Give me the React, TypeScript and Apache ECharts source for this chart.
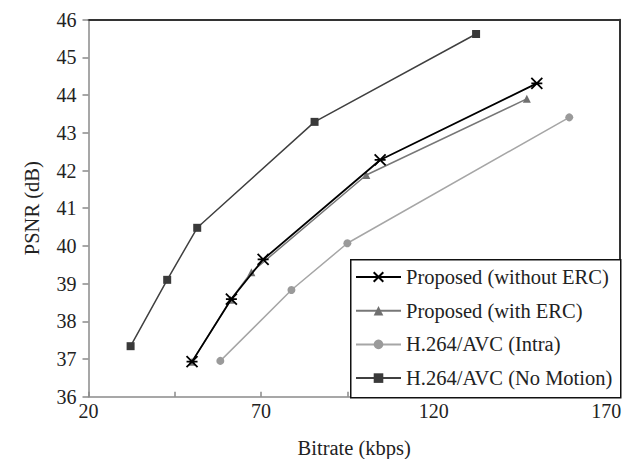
import React, { useEffect, useRef } from "react";
import * as echarts from "echarts";

const seriesNames = [
  "Proposed (without ERC)",
  "Proposed (with ERC)",
  "H.264/AVC (Intra)",
  "H.264/AVC (No Motion)",
];

const withoutErcX = [50.0, 61.4, 70.6, 104.5, 149.9];
const withoutErcY = [36.93, 38.59, 39.64, 42.28, 44.31];

const withErcX = [50.0, 61.2, 67.2, 100.5, 147.0];
const withErcY = [36.93, 38.57, 39.3, 41.88, 43.9];

const intraX = [58.2, 78.8, 95.0, 159.3];
const intraY = [36.95, 38.83, 40.07, 43.41];

const noMotionX = [32.2, 42.8, 51.5, 85.5, 132.3];
const noMotionY = [37.34, 39.1, 40.48, 43.29, 45.62];

const xLabelValues = [20, 70, 120, 170];

const pairs = (xs: number[], ys: number[]) => xs.map((x, i) => [x, ys[i]]);

const FONT = "'Liberation Serif', 'Times New Roman', serif";
const STAR = "path://M0,0L10,10M0,10L10,0M0,5L10,5";

export default function App() {
  const ref = useRef<HTMLDivElement>(null);
  useEffect(() => {
    document.body.style.margin = "0";
    const chart = echarts.init(ref.current!, null, { renderer: "svg" });
    const axisGray = "#8a8a8a";
    chart.setOption({
      animation: false,
      backgroundColor: "#ffffff",
      grid: {
        left: 88.5,
        right: 9,
        top: 19.7,
        bottom: 62.3,
        containLabel: false,
        outerBoundsMode: "none",
      },
      xAxis: [
        {
          type: "value",
          min: 20,
          max: 174,
          interval: 25,
          name: "Bitrate (kbps)",
          nameLocation: "middle",
          nameGap: 41,
          nameTextStyle: { fontFamily: FONT, fontSize: 20.5, color: "#222" },
          axisLine: { show: true, lineStyle: { color: axisGray, width: 1.5 } },
          axisTick: { show: true, inside: true, length: 5, lineStyle: { color: axisGray, width: 1.5 } },
          axisLabel: {
            fontFamily: FONT,
            fontSize: 20,
            color: "#222",
            margin: 4,
            formatter: (v: number) => (xLabelValues.includes(v) ? String(v) : ""),
          },
          splitLine: { show: false },
        },
        {
          type: "value",
          position: "top",
          min: 20,
          max: 174,
          axisLine: { show: true, lineStyle: { color: "#333", width: 2 } },
          axisTick: { show: false },
          axisLabel: { show: false },
          splitLine: { show: false },
        },
      ],
      yAxis: [
        {
          type: "value",
          min: 36,
          max: 46,
          interval: 1,
          name: "PSNR (dB)",
          nameLocation: "middle",
          nameGap: 46,
          nameTextStyle: { fontFamily: FONT, fontSize: 20.5, color: "#222" },
          axisLine: { show: true, lineStyle: { color: axisGray, width: 1.5 } },
          axisTick: { show: true, inside: false, length: 6, lineStyle: { color: axisGray, width: 1.5 } },
          axisLabel: { fontFamily: FONT, fontSize: 20, color: "#222", margin: 12 },
          splitLine: { show: false },
        },
        {
          type: "value",
          position: "right",
          min: 36,
          max: 46,
          axisLine: { show: true, lineStyle: { color: "#333", width: 2 } },
          axisTick: { show: false },
          axisLabel: { show: false },
          splitLine: { show: false },
        },
      ],
      graphic: [
        {
          type: "rect",
          left: 350,
          top: 259,
          shape: { width: 270, height: 138 },
          style: { fill: "#fff", stroke: "#111", lineWidth: 1.5 },
          z: 5,
        },
      ],
      legend: {
        orient: "vertical",
        left: 355,
        top: 266,
        padding: 0,
        itemWidth: 45,
        itemHeight: 12,
        itemGap: 11.7,
        data: seriesNames,
        textStyle: { fontFamily: FONT, fontSize: 20.5, color: "#222", lineHeight: 22 },
        z: 10,
      },
      series: [
        {
          name: seriesNames[3],
          type: "line",
          data: pairs(noMotionX, noMotionY),
          symbol: "rect",
          symbolSize: 8,
          lineStyle: { color: "#404040", width: 1.5 },
          itemStyle: { color: "#3a3a3a" },
          z: 2,
        },
        {
          name: seriesNames[2],
          type: "line",
          data: pairs(intraX, intraY),
          symbol: "circle",
          symbolSize: 8,
          lineStyle: { color: "#a6a6a6", width: 1.5 },
          itemStyle: { color: "#9a9a9a" },
          z: 2,
        },
        {
          name: seriesNames[1],
          type: "line",
          data: pairs(withErcX, withErcY),
          symbol: "triangle",
          symbolSize: 8,
          lineStyle: { color: "#777777", width: 1.5 },
          itemStyle: { color: "#707070" },
          z: 3,
        },
        {
          name: seriesNames[0],
          type: "line",
          data: pairs(withoutErcX, withoutErcY),
          symbol: STAR,
          symbolSize: 11,
          lineStyle: { color: "#000", width: 1.8 },
          itemStyle: { color: "#000", borderColor: "#000", borderWidth: 1.8 },
          z: 4,
        },
      ],
    });
    return () => chart.dispose();
  }, []);
  return <div ref={ref} style={{ width: 629, height: 459 }} />;
}
